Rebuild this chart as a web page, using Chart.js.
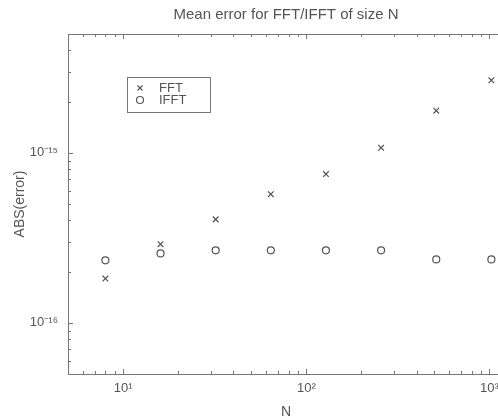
<!DOCTYPE html>
<html>
<head>
<meta charset="utf-8">
<script src="https://cdn.jsdelivr.net/npm/chart.js@4/dist/chart.umd.min.js"></script>
<style>
  html, body { margin: 0; padding: 0; background: #fff; overflow: hidden; }
  #wrap { width: 510px; height: 419px; }
</style>
</head>
<body>
<div id="wrap"><canvas id="chart" width="510" height="419"></canvas></div>
<script>
// values
const sizes = [8, 16, 32, 64, 128, 256, 512, 1024];
const fftErr = [1.82e-16, 2.9e-16, 4.06e-16, 5.71e-16, 7.5e-16, 1.07e-15, 1.77e-15, 2.67e-15];
const ifftErr = [2.33e-16, 2.56e-16, 2.67e-16, 2.67e-16, 2.67e-16, 2.67e-16, 2.36e-16, 2.36e-16];

const xTickVals = [10, 100, 1000];
const xTickLabels = ["10\u00b9", "10\u00b2", "10\u00b3"];
const yTickVals = [1e-16, 1e-15];
const yTickLabels = ["10\u207b\u00b9\u2076", "10\u207b\u00b9\u2075"];

const titleText = "Mean error for FFT/IFFT of size N";

const ink = "#555";
const frame = "#777";
const font = "'Liberation Sans', Arial, sans-serif";

// box round the axes, Matlab style inward ticks, title and legend
const boxTicks = {
  id: "boxTicks",
  afterDraw(chart) {
    const { ctx, chartArea: a, scales } = chart;
    ctx.save();
    ctx.strokeStyle = frame;
    ctx.lineWidth = 1;
    ctx.strokeRect(Math.round(a.left) + 0.5, Math.round(a.top) + 0.5,
      Math.round(a.right - a.left), Math.round(a.bottom - a.top));

    const xs = scales.x, ys = scales.y;
    ctx.beginPath();
    for (let d = 1; d <= 1000; d *= 10) {
      for (let m = 1; m < 10; m++) {
        const v = d * m;
        if (v < xs.min || v > xs.max) continue;
        const px = Math.round(xs.getPixelForValue(v)) + 0.5;
        const len = m === 1 ? 5 : 3;
        ctx.moveTo(px, a.bottom); ctx.lineTo(px, a.bottom - len);
        ctx.moveTo(px, a.top); ctx.lineTo(px, a.top + len);
      }
    }
    for (let d = 1e-17; d <= 1e-15; d *= 10) {
      for (let m = 1; m < 10; m++) {
        const v = d * m;
        if (v < ys.min || v > ys.max) continue;
        const py = Math.round(ys.getPixelForValue(v)) + 0.5;
        const len = m === 1 ? 5 : 3;
        ctx.moveTo(a.left, py); ctx.lineTo(a.left + len, py);
        ctx.moveTo(a.right, py); ctx.lineTo(a.right - len, py);
      }
    }
    ctx.stroke();

    // title centred over the axes
    ctx.fillStyle = ink;
    ctx.font = "15px " + font;
    ctx.textAlign = "center";
    ctx.textBaseline = "middle";
    ctx.fillText(titleText, (a.left + a.right) / 2, 15);

    // legend box inside the axes
    const lx = 127.5, ly = 77.5, lw = 83, lh = 35;
    ctx.fillStyle = "#fff";
    ctx.fillRect(lx, ly, lw, lh);
    ctx.strokeStyle = frame;
    ctx.strokeRect(lx, ly, lw, lh);
    const entries = [
      { label: "FFT", style: "crossRot", y: 88 },
      { label: "IFFT", style: "circle", y: 100 }
    ];
    ctx.font = "13px " + font;
    ctx.textAlign = "left";
    entries.forEach(e => {
      ctx.strokeStyle = ink;
      ctx.fillStyle = "rgba(0,0,0,0)";
      ctx.lineWidth = 1.2;
      Chart.helpers.drawPoint(ctx, { pointStyle: e.style, radius: 3.5, rotation: 0, borderWidth: 1.2 }, 140, e.y);
      ctx.fillStyle = ink;
      ctx.fillText(e.label, 159, e.y);
    });
    ctx.restore();
  }
};

new Chart(document.getElementById("chart"), {
  type: "scatter",
  data: {
    datasets: [
      {
        label: "FFT",
        data: sizes.map((n, i) => ({ x: n, y: fftErr[i] })),
        pointStyle: "crossRot",
        pointRadius: 4,
        borderColor: ink,
        borderWidth: 1.2,
        backgroundColor: "transparent"
      },
      {
        label: "IFFT",
        data: sizes.map((n, i) => ({ x: n, y: ifftErr[i] })),
        pointStyle: "circle",
        pointRadius: 3.5,
        borderColor: ink,
        borderWidth: 1.2,
        backgroundColor: "transparent"
      }
    ]
  },
  options: {
    responsive: false,
    animation: false,
    layout: { padding: { left: 0, right: 6, top: 34, bottom: 0 } },
    plugins: {
      legend: { display: false },
      tooltip: { enabled: false },
      title: { display: false }
    },
    scales: {
      x: {
        type: "logarithmic",
        min: 5,
        max: 1200,
        grid: { display: false, drawTicks: false },
        border: { display: false },
        afterBuildTicks: s => { s.ticks = xTickVals.map(v => ({ value: v })); },
        afterFit: s => { s.height = 45; },
        ticks: {
          autoSkip: false,
          maxRotation: 0,
          padding: 7,
          color: ink,
          font: { family: font, size: 13 },
          callback: v => xTickLabels[xTickVals.indexOf(v)] || ""
        },
        title: {
          display: true,
          text: "N",
          color: ink,
          font: { family: font, size: 14, lineHeight: 1 },
          padding: { top: 0, bottom: 0 }
        }
      },
      y: {
        type: "logarithmic",
        min: 5e-17,
        max: 5e-15,
        grid: { display: false, drawTicks: false },
        border: { display: false },
        afterBuildTicks: s => { s.ticks = yTickVals.map(v => ({ value: v })); },
        afterFit: s => { s.width = 68; },
        ticks: {
          autoSkip: false,
          padding: 10,
          color: ink,
          font: { family: font, size: 13 },
          callback: v => {
            const i = yTickVals.findIndex(t => Math.abs(t - v) / t < 1e-6);
            return i >= 0 ? yTickLabels[i] : "";
          }
        },
        title: {
          display: true,
          text: "ABS(error)",
          color: ink,
          font: { family: font, size: 14 },
          padding: { top: 12, bottom: 0 }
        }
      }
    }
  },
  plugins: [boxTicks]
});
</script>
</body>
</html>
